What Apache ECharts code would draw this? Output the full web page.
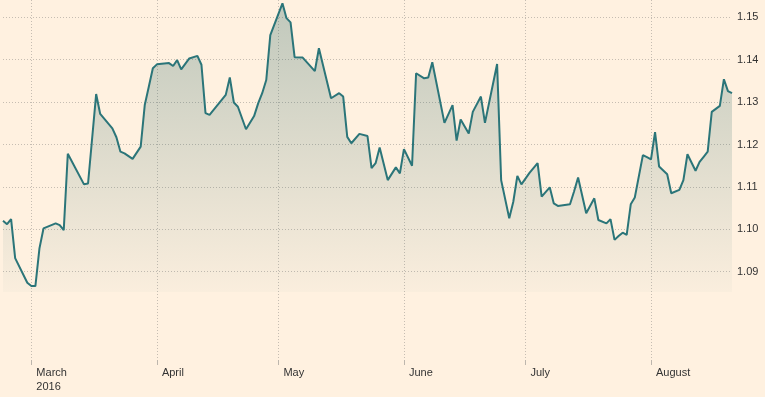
<!DOCTYPE html>
<html>
<head>
<meta charset="utf-8">
<script src="https://cdn.jsdelivr.net/npm/echarts@6/dist/echarts.min.js"></script>
<style>
  html, body { margin: 0; padding: 0; background: #fff1e0; }
  #chart { width: 765px; height: 397px; }
</style>
</head>
<body>
<div id="chart"></div>
<script>
// one entry per visible corner of the line
var dates = [
  '2016-02-23', '2016-02-24', '2016-02-25', '2016-02-26', '2016-02-29',
  '2016-03-01', '2016-03-02', '2016-03-03', '2016-03-04', '2016-03-07', '2016-03-08', '2016-03-09', '2016-03-10',
  '2016-03-14', '2016-03-15', '2016-03-17', '2016-03-18', '2016-03-21', '2016-03-22', '2016-03-23', '2016-03-24',
  '2016-03-26', '2016-03-28', '2016-03-29', '2016-03-30', '2016-03-31',
  '2016-04-01', '2016-04-04', '2016-04-05', '2016-04-06', '2016-04-07', '2016-04-09', '2016-04-11', '2016-04-12',
  '2016-04-13', '2016-04-14', '2016-04-18', '2016-04-19', '2016-04-20', '2016-04-21', '2016-04-23', '2016-04-25',
  '2016-04-26', '2016-04-27', '2016-04-28', '2016-04-29',
  '2016-05-02', '2016-05-03', '2016-05-04', '2016-05-05', '2016-05-07', '2016-05-10', '2016-05-11', '2016-05-14',
  '2016-05-16', '2016-05-17', '2016-05-18', '2016-05-19', '2016-05-21', '2016-05-23', '2016-05-24', '2016-05-25',
  '2016-05-26', '2016-05-28', '2016-05-30', '2016-05-31',
  '2016-06-01', '2016-06-03', '2016-06-04', '2016-06-06', '2016-06-07', '2016-06-08', '2016-06-11', '2016-06-13',
  '2016-06-14', '2016-06-15', '2016-06-17', '2016-06-18', '2016-06-20', '2016-06-21', '2016-06-24', '2016-06-25',
  '2016-06-27', '2016-06-28', '2016-06-29', '2016-06-30',
  '2016-07-02', '2016-07-04', '2016-07-05', '2016-07-07', '2016-07-08', '2016-07-09', '2016-07-12', '2016-07-13',
  '2016-07-14', '2016-07-16', '2016-07-18', '2016-07-19', '2016-07-21', '2016-07-22', '2016-07-23', '2016-07-24',
  '2016-07-25', '2016-07-26', '2016-07-27', '2016-07-28', '2016-07-30', '2016-07-31',
  '2016-08-01', '2016-08-02', '2016-08-03', '2016-08-05', '2016-08-06', '2016-08-08', '2016-08-09', '2016-08-10',
  '2016-08-12', '2016-08-13', '2016-08-14', '2016-08-15', '2016-08-16', '2016-08-18', '2016-08-19', '2016-08-20',
  '2016-08-21'
];
var rates = [
  1.1020, 1.1012, 1.1024, 1.0932, 1.0874,
  1.0866, 1.0866, 1.0955, 1.1002, 1.1014, 1.1010, 1.0998, 1.1178,
  1.1106, 1.1108, 1.1319, 1.1272, 1.1238, 1.1217, 1.1183, 1.1179,
  1.1166, 1.1195, 1.1293, 1.1336, 1.1380,
  1.1389, 1.1392, 1.1385, 1.1399, 1.1377, 1.1403, 1.1409, 1.1388,
  1.1274, 1.1270, 1.1317, 1.1358, 1.1299, 1.1289, 1.1236, 1.1267,
  1.1297, 1.1321, 1.1352, 1.1458,
  1.1533, 1.1498, 1.1488, 1.1406, 1.1405, 1.1373, 1.1427, 1.1309,
  1.1321, 1.1313, 1.1218, 1.1203, 1.1225, 1.1220, 1.1144, 1.1156,
  1.1193, 1.1116, 1.1146, 1.1132,
  1.1189, 1.1150, 1.1368, 1.1356, 1.1358, 1.1394, 1.1251, 1.1293,
  1.1209, 1.1259, 1.1226, 1.1277, 1.1313, 1.1251, 1.1390, 1.1116,
  1.1026, 1.1065, 1.1126, 1.1106,
  1.1133, 1.1156, 1.1077, 1.1099, 1.1061, 1.1055, 1.1059, 1.1089,
  1.1122, 1.1038, 1.1073, 1.1022, 1.1014, 1.1024, 1.0975, 1.0984,
  1.0992, 1.0987, 1.1059, 1.1075, 1.1175, 1.1170,
  1.1165, 1.1229, 1.1148, 1.1130, 1.1085, 1.1093, 1.1116, 1.1177,
  1.1138, 1.1159, 1.1171, 1.1183, 1.1277, 1.1291, 1.1354, 1.1326,
  1.1321
];
var monthTicks = ['2016-03-01', '2016-04-01', '2016-05-01', '2016-06-01', '2016-07-01', '2016-08-01'];
var monthNames = ['January', 'February', 'March', 'April', 'May', 'June',
  'July', 'August', 'September', 'October', 'November', 'December'];
var rateTicks = [1.09, 1.10, 1.11, 1.12, 1.13, 1.14, 1.15];

// days as UTC timestamps on a plain value axis, so custom tick values work
function ts(s) {
  var p = s.split('-');
  return Date.UTC(+p[0], +p[1] - 1, +p[2]);
}
var monthTs = monthTicks.map(ts);

var gridColor = '#c6bdb2';
var textFont = "'Liberation Sans', Arial, sans-serif";

var chart = echarts.init(document.getElementById('chart'));
chart.setOption({
  backgroundColor: '#fff1e0',
  animation: false,
  grid: { left: 3, right: 33, top: 0, bottom: 37 },
  xAxis: {
    type: 'value',
    min: ts(dates[0]),
    max: ts(dates[dates.length - 1]),
    axisLine: { show: false },
    axisTick: {
      show: true,
      length: 5,
      customValues: monthTs,
      lineStyle: { color: '#bdb6ad' }
    },
    axisLabel: {
      customValues: monthTs,
      align: 'left',
      padding: [0, 0, 0, 5],
      margin: 6,
      color: '#333',
      fontSize: 11,
      lineHeight: 14,
      fontFamily: textFont,
      formatter: function (value) {
        var d = new Date(value);
        var name = monthNames[d.getUTCMonth()];
        if (d.getUTCMonth() === 2) return name + '\n' + d.getUTCFullYear(); // first one carries the year
        return name;
      }
    },
    splitLine: {
      show: true,
      lineStyle: { color: gridColor, type: [1, 2], width: 1 }
    }
  },
  yAxis: {
    type: 'value',
    position: 'right',
    min: 1.06917,
    max: 1.15408,
    axisLine: { show: false },
    axisTick: { show: false, customValues: rateTicks },
    axisLabel: {
      customValues: rateTicks,
      margin: 5,
      color: '#333',
      fontSize: 11,
      fontFamily: textFont,
      formatter: function (v) { return v.toFixed(2); }
    },
    splitLine: {
      show: true,
      lineStyle: { color: gridColor, type: [1, 2], width: 1 }
    }
  },
  series: [{
    type: 'line',
    data: dates.map(function (d, i) { return [ts(d), rates[i]]; }),
    showSymbol: false,
    symbol: 'none',
    lineStyle: { color: '#2b7579', width: 2 },
    areaStyle: {
      origin: 1.0852,
      color: new echarts.graphic.LinearGradient(0, 0, 0, 1, [
        { offset: 0, color: 'rgba(30,95,95,0.40)' },
        { offset: 1, color: 'rgba(30,95,95,0.03)' }
      ])
    }
  }]
});
</script>
</body>
</html>
